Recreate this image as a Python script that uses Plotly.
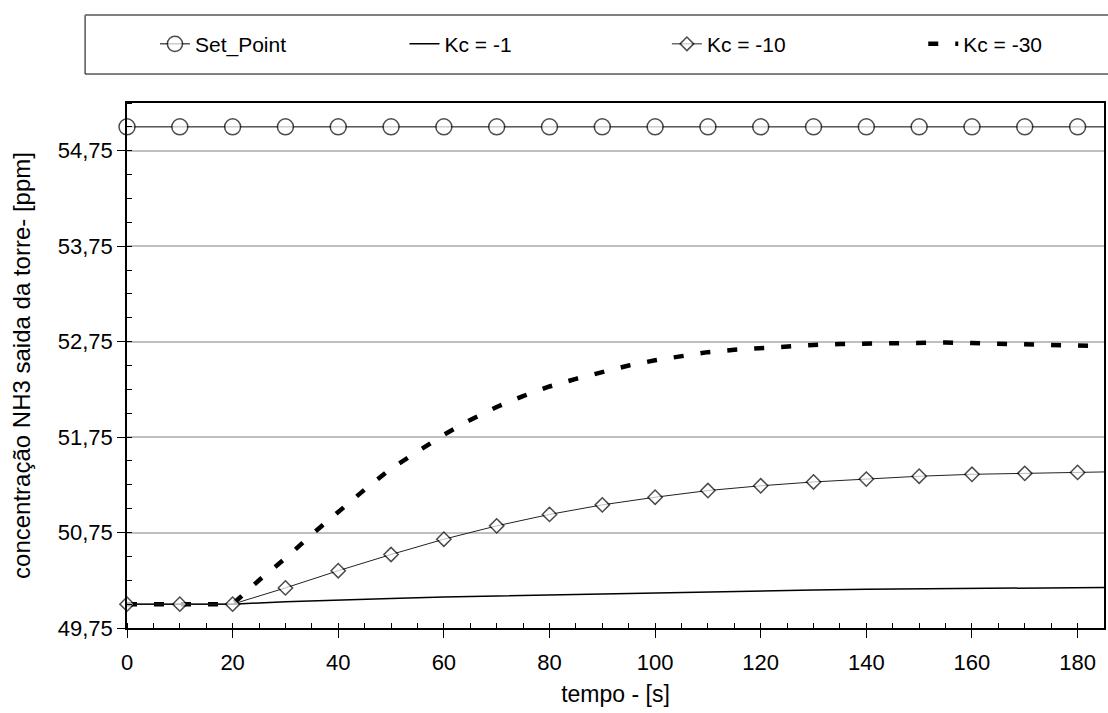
import plotly.graph_objects as go

# ---- data ----
t_10 = [0, 10, 20, 30, 40, 50, 60, 70, 80, 90, 100, 110, 120, 130, 140, 150, 160, 170, 180, 185]
set_point = [55.0, 55.0, 55.0, 55.0, 55.0, 55.0, 55.0, 55.0, 55.0, 55.0,
             55.0, 55.0, 55.0, 55.0, 55.0, 55.0, 55.0, 55.0, 55.0, 55.0]
kc_1 = [50.0, 50.0, 50.0, 50.025, 50.045, 50.06, 50.075, 50.086, 50.097, 50.108,
        50.118, 50.128, 50.138, 50.148, 50.155, 50.16, 50.165, 50.17, 50.173, 50.175]
kc_10 = [50.0, 50.0, 50.0, 50.17, 50.35, 50.52, 50.68, 50.82, 50.94, 51.04,
         51.12, 51.19, 51.24, 51.28, 51.31, 51.34, 51.36, 51.37, 51.38, 51.385]
t_5 = [0, 5, 10, 15, 20, 25, 30, 35, 40, 45, 50, 55, 60, 65, 70, 75, 80, 85, 90, 95,
       100, 105, 110, 115, 120, 125, 130, 135, 140, 145, 150, 155, 160, 165, 170, 175, 180, 185]
kc_30 = [50.0, 50.0, 50.0, 50.0, 50.0, 50.25, 50.48, 50.73, 50.97, 51.20, 51.42, 51.60,
         51.775, 51.93, 52.065, 52.18, 52.28, 52.36, 52.435, 52.50, 52.555, 52.60, 52.64,
         52.665, 52.685, 52.705, 52.715, 52.725, 52.73, 52.74, 52.74, 52.74, 52.735, 52.725,
         52.72, 52.715, 52.71, 52.705]

x_ticks = [0, 20, 40, 60, 80, 100, 120, 140, 160, 180]
y_ticks = [49.75, 50.75, 51.75, 52.75, 53.75, 54.75]

FONT = "Liberation Sans, Arial, sans-serif"
marker_sizes_sp = [16] * 19 + [0]
marker_sizes_10 = [11] * 19 + [0]

fig = go.Figure()
fig.add_trace(go.Scatter(
    x=t_10, y=set_point, name="Set_Point", mode="lines+markers", legend="legend",
    line=dict(color="black", width=1),
    marker=dict(symbol="circle", size=marker_sizes_sp, color="white",
                line=dict(color="black", width=1.5)),
    cliponaxis=False))
fig.add_trace(go.Scatter(
    x=t_10, y=kc_1, name="Kc = -1", mode="lines", legend="legend2",
    line=dict(color="black", width=1.5)))
fig.add_trace(go.Scatter(
    x=t_5, y=kc_30, name="Kc = -30", mode="lines", legend="legend4",
    line=dict(color="black", width=4.5, dash="10px,17px")))
fig.add_trace(go.Scatter(
    x=t_10, y=kc_10, name="Kc = -10", mode="lines+markers", legend="legend3",
    line=dict(color="#222222", width=1),
    marker=dict(symbol="diamond", size=marker_sizes_10, color="white",
                line=dict(color="black", width=1.5)),
    cliponaxis=False))

def leg(x):
    return dict(orientation="h", x=x, xanchor="left", y=1.112, yanchor="middle",
                font=dict(size=21, family=FONT, color="black"),
                bgcolor="rgba(0,0,0,0)", borderwidth=0)

fig.update_layout(
    width=1108, height=713,
    margin=dict(l=127, r=2, t=103, b=85),
    paper_bgcolor="white", plot_bgcolor="white",
    separators=", ",
    font=dict(family=FONT, size=22, color="black"),
    showlegend=True,
    legend=leg(0.0286),
    legend2=leg(0.284),
    legend3=leg(0.5526),
    legend4=leg(0.815),
)

fig.update_xaxes(
    range=[0, 185], tickvals=x_ticks, ticks="outside", ticklen=8, tickwidth=1,
    tickcolor="black", showline=True, linecolor="black", linewidth=1.5, mirror=True,
    showgrid=False, zeroline=False,
    minor=dict(dtick=5, tick0=0, ticks="inside", ticklen=5, tickcolor="black", showgrid=False),
    tickfont=dict(size=22, family=FONT),
    ticklabelstandoff=6,
    title=dict(text="tempo - [s]", font=dict(size=23, family=FONT), standoff=12),
)
fig.update_yaxes(
    range=[49.75, 55.25], tickvals=y_ticks, tickformat=".2f", ticks="outside", ticklen=8,
    tickwidth=1, tickcolor="black", showline=True, linecolor="black", linewidth=1.5,
    mirror=True, showgrid=True, gridcolor="#c0c0c0", gridwidth=1.5, zeroline=False,
    minor=dict(dtick=0.25, tick0=49.75, ticks="inside", ticklen=5, tickcolor="black", showgrid=False),
    tickfont=dict(size=22, family=FONT),
    title=dict(text="concentração NH3 saida da torre- [ppm]", font=dict(size=24, family=FONT), standoff=20),
)

# legend box
fig.add_shape(type="rect", xref="paper", yref="paper",
              x0=-0.0429, x1=1.01, y0=1.0552, y1=1.1676,
              line=dict(color="black", width=1), fillcolor="rgba(0,0,0,0)", layer="below")
fig.add_shape(type="line", xref="paper", yref="paper",
              x0=-0.0429, x1=1.01, y0=1.1676, y1=1.1676,
              line=dict(color="#808080", width=2))

fig.write_html("out.html")
